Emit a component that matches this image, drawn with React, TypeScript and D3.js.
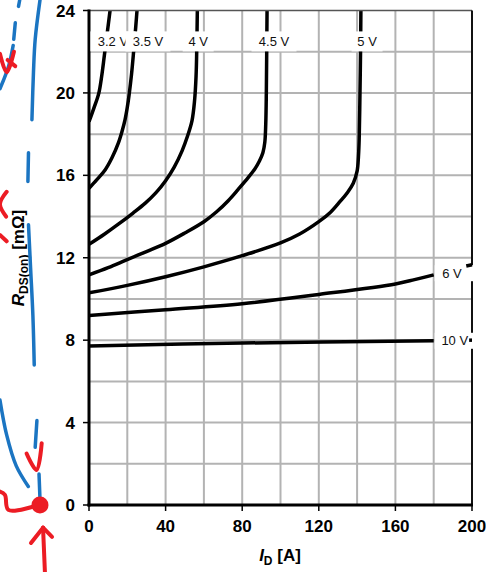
import React, { useEffect, useRef } from 'react';
import * as d3 from 'd3';

// I_D [A] vs R_DS(on) [mOhm], one curve per V_GS
const curveNames = ['3.2 V', '3.5 V', '4 V', '4.5 V', '5 V', '6 V', '10 V'];

const v32: [number, number][] = [[0, 18.6], [2.5, 19.25], [5.1, 19.98], [6.6, 20.8], [8, 21.8], [9.5, 22.9], [11, 24]];
const v35: [number, number][] = [[0, 15.37], [4, 15.78], [8.4, 16.26], [12, 16.85], [15.3, 17.56], [17.3, 18.15], [18.8, 18.69], [20, 19.3], [21, 19.95], [22.2, 20.9], [23.3, 22], [24.4, 23.2], [25.4, 24.4]];
const v4: [number, number][] = [[0, 12.65], [8, 13.14], [15.5, 13.64], [23, 14.17], [29.4, 14.65], [35, 15.16], [40, 15.74], [44.5, 16.4], [48.6, 17.19], [51.5, 17.92], [53.8, 18.66], [55.1, 19.6], [55.9, 20.8], [56.3, 22.3], [56.6, 24.2]];
const v45: [number, number][] = [[0, 11.17], [10, 11.52], [19, 11.87], [30, 12.3], [40, 12.7], [50, 13.2], [60, 13.75], [66.5, 14.22], [72.7, 14.77], [78, 15.33], [83.2, 15.9], [86.5, 16.3], [89, 16.7], [90.8, 17.1], [91.8, 17.6], [92.3, 18.5], [92.6, 20], [92.8, 22], [93, 24.2]];
const v5: [number, number][] = [[0, 10.3], [20, 10.66], [40, 11.08], [60, 11.56], [80, 12.1], [100, 12.72], [110, 13.15], [120, 13.75], [126, 14.2], [131, 14.72], [135, 15.17], [138, 15.62], [140, 16.2], [140.7, 16.9], [141.1, 17.8], [141.5, 20], [141.8, 22], [142, 24.2]];
const v6: [number, number][] = [[0, 9.2], [40, 9.48], [80, 9.77], [120, 10.22], [160, 10.73], [170, 10.94], [180, 11.17]];
const v6Tail: [number, number][] = [[197, 11.6], [200, 11.66]];
const v10: [number, number][] = [[0, 7.72], [80, 7.86], [180, 7.97]];
const v10Tail: [number, number][] = [[198.5, 8.0], [200, 8.0]];

const curves = [v32, v35, v4, v45, v5, v6, v10];

// label anchor (A, mOhm)
const labelX = [12.5, 30.8, 57, 96.6, 145.2, 189.5, 191];
const labelY = [22.5, 22.5, 22.5, 22.5, 22.5, 11.25, 7.97];

const xTicks = [0, 40, 80, 120, 160, 200];
const yTicks = [0, 4, 8, 12, 16, 20, 24];
const xGrid = d3.range(20, 200, 20);
const yGrid = d3.range(2, 24, 2);

// hand drawn pen marks on the left margin, in chart units
const blueMarks: [number, number][][] = [
  [[-36.2, 24.5], [-36.8, 24.2]],
  [[-38.5, 23.4], [-39.3, 22.6]],
  [[-39.6, 22.3], [-42, 21.3], [-46.5, 20.2]],
  [[-25.6, 24.5], [-28.1, 22.6], [-29.0, 21.0], [-29.8, 18.7]],
  [[-31.6, 17.1], [-31.9, 15.7]],
  [[-31.6, 13.6], [-30.5, 11.5], [-29.3, 9.2], [-28.6, 6.8]],
  [[-46.5, 5.1], [-43.0, 3.4], [-38.0, 1.9], [-31.7, 0.9]],
  [[-27.2, 4.1], [-28.1, 2.8]],
  [[-26.1, 1.5], [-25.6, 0.3]],
];
const redMarks: [number, number][][] = [
  [[-46.5, 21.9], [-43.0, 21.0], [-39.2, 22.0]],
  [[-42.5, 21.6], [-38.5, 21.3]],
  [[-43.0, 15.2], [-46.5, 14.6], [-43.3, 14.0]],
  [[-46.5, 13.1], [-43.0, 12.8]],
  [[-32.6, 2.5], [-27.4, 1.7], [-24.7, 3.0]],
  [[-46.5, 0.65], [-43.9, 0.49], [-42.1, -0.24], [-26.5, 0]],
  [[-24.0, -1.1], [-30.3, -1.84]],
  [[-24.0, -1.1], [-19.3, -1.55]],
  [[-24.0, -1.1], [-23.0, -3.3]],
];
const redDot: [number, number] = [-25.6, 0];

export default function App() {
  const ref = useRef<SVGSVGElement>(null);

  useEffect(() => {
    const svg = d3.select(ref.current);
    svg.selectAll('*').remove();

    const x = d3.scaleLinear().domain([0, 200]).range([89, 472]);
    const y = d3.scaleLinear().domain([0, 24]).range([505, 10.5]);
    const font = 'Liberation Sans, Arial, sans-serif';

    svg.append('rect').attr('width', 486).attr('height', 572).attr('fill', '#fff');

    // plot area clip so curves stop at the top border
    svg.append('clipPath').attr('id', 'plot')
      .append('rect').attr('x', x(0)).attr('y', y(24)).attr('width', x(200) - x(0)).attr('height', y(0) - y(24));

    // grid
    svg.selectAll('.gx').data(xGrid).enter().append('line')
      .attr('x1', d => x(d)).attr('x2', d => x(d))
      .attr('y1', y(0)).attr('y2', y(24))
      .attr('stroke', '#b3b3b3').attr('stroke-width', 2);
    svg.selectAll('.gy').data(yGrid).enter().append('line')
      .attr('x1', x(0)).attr('x2', x(200))
      .attr('y1', d => y(d)).attr('y2', d => y(d))
      .attr('stroke', '#b3b3b3').attr('stroke-width', 2);

    // curves
    const line = d3.line<[number, number]>()
      .x(d => x(d[0])).y(d => y(d[1]))
      .curve(d3.curveCatmullRom.alpha(0.5));
    svg.append('g').attr('clip-path', 'url(#plot)')
      .selectAll('path').data(curves).enter().append('path')
      .attr('d', d => line(d))
      .attr('fill', 'none').attr('stroke', '#000').attr('stroke-width', 3.5);

    // frame
    svg.append('line').attr('x1', x(0)).attr('x2', x(200)).attr('y1', y(24)).attr('y2', y(24))
      .attr('stroke', '#555').attr('stroke-width', 1.6);
    svg.append('line').attr('x1', x(200)).attr('x2', x(200)).attr('y1', y(24)).attr('y2', y(0))
      .attr('stroke', '#111').attr('stroke-width', 2);
    svg.append('line').attr('x1', x(0)).attr('x2', x(0)).attr('y1', y(24) - 1).attr('y2', y(0) + 1.5)
      .attr('stroke', '#000').attr('stroke-width', 3);
    svg.append('line').attr('x1', x(0) - 1.5).attr('x2', x(200) + 1).attr('y1', y(0)).attr('y2', y(0))
      .attr('stroke', '#000').attr('stroke-width', 3);

    // ticks
    svg.selectAll('.tx').data(xTicks).enter().append('line')
      .attr('x1', d => x(d)).attr('x2', d => x(d))
      .attr('y1', y(0)).attr('y2', y(0) + 6)
      .attr('stroke', '#000').attr('stroke-width', 1.5);
    svg.selectAll('.ty').data(yTicks).enter().append('line')
      .attr('x1', x(0) - 6).attr('x2', x(0))
      .attr('y1', d => y(d)).attr('y2', d => y(d))
      .attr('stroke', '#000').attr('stroke-width', 1.5);

    svg.selectAll('.lx').data(xTicks).enter().append('text')
      .attr('x', d => x(d)).attr('y', 532)
      .attr('text-anchor', 'middle')
      .attr('font-family', font).attr('font-weight', 'bold').attr('font-size', 17)
      .text(d => d);
    svg.selectAll('.ly').data(yTicks).enter().append('text')
      .attr('x', 75).attr('y', d => y(d)).attr('dy', '0.36em')
      .attr('text-anchor', 'end')
      .attr('font-family', font).attr('font-weight', 'bold').attr('font-size', 17)
      .text(d => d);

    // label boxes and labels
    const g = svg.append('g');
    curveNames.forEach((name, i) => {
      const w = name.length * 7 + 10;
      const cx = x(labelX[i]);
      const cy = y(labelY[i]);
      const top = i < 5;
      g.append('rect')
        .attr('x', top ? cx - w / 2 : x(180) + 1).attr('y', top ? cy - 10 : cy - 8)
        .attr('width', top ? w : 40).attr('height', top ? 20 : 16)
        .attr('fill', '#fff');
      g.append('text')
        .attr('x', cx).attr('y', cy).attr('dy', '0.36em')
        .attr('text-anchor', 'middle')
        .attr('font-family', font).attr('font-size', 13).attr('fill', '#111')
        .text(name);
    });

    svg.selectAll('.tail').data([v6Tail, v10Tail]).enter().append('path')
      .attr('d', d => line(d))
      .attr('fill', 'none').attr('stroke', '#000').attr('stroke-width', 3.5);

    // axis titles
    const xt = svg.append('text').attr('x', 280).attr('y', 561)
      .attr('text-anchor', 'middle')
      .attr('font-family', font).attr('font-weight', 'bold').attr('font-size', 17);
    xt.append('tspan').attr('font-style', 'italic').text('I');
    xt.append('tspan').attr('font-size', 12).attr('dy', 4).text('D');
    xt.append('tspan').attr('dy', -4).text(' [A]');

    const yt = svg.append('text')
      .attr('transform', 'translate(24,258) rotate(-90)')
      .attr('text-anchor', 'middle')
      .attr('font-family', font).attr('font-weight', 'bold').attr('font-size', 17);
    yt.append('tspan').attr('font-style', 'italic').text('R');
    yt.append('tspan').attr('font-size', 12).attr('dy', 4).text('DS(on)');
    yt.append('tspan').attr('dy', -4).text(' [mΩ]');

    // pen marks
    const pen = d3.line<[number, number]>()
      .x(d => x(d[0])).y(d => y(d[1]))
      .curve(d3.curveCatmullRom);
    svg.selectAll('.blue').data(blueMarks).enter().append('path')
      .attr('d', d => pen(d))
      .attr('fill', 'none').attr('stroke', '#1b75c2').attr('stroke-width', 3.5)
      .attr('stroke-linecap', 'round');
    svg.selectAll('.red').data(redMarks).enter().append('path')
      .attr('d', d => pen(d))
      .attr('fill', 'none').attr('stroke', '#ec1c24').attr('stroke-width', 4)
      .attr('stroke-linecap', 'round').attr('stroke-linejoin', 'round');
    svg.append('circle')
      .attr('cx', x(redDot[0])).attr('cy', y(redDot[1])).attr('r', 8.5)
      .attr('fill', '#ec1c24');
  }, []);

  return (
    <svg
      ref={ref}
      width={486}
      height={572}
      style={{ position: 'absolute', left: 0, top: 0 }}
    />
  );
}
